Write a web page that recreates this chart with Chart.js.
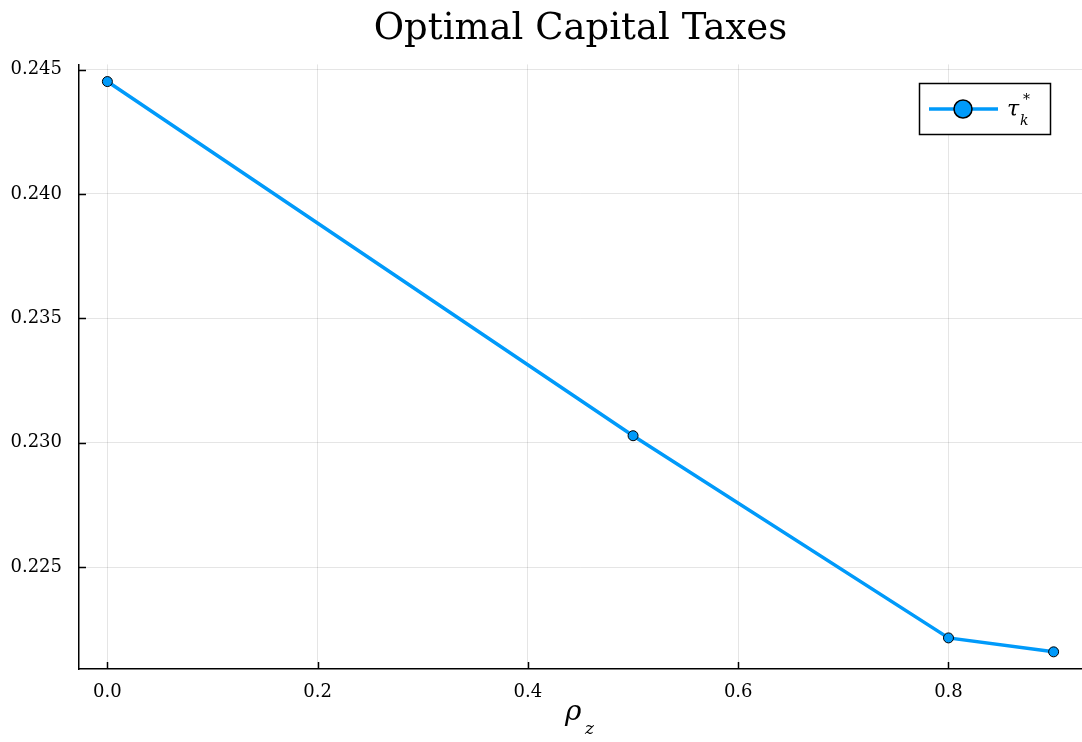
<!DOCTYPE html>
<html>
<head>
<meta charset="utf-8">
<script src="https://cdn.jsdelivr.net/npm/chart.js@4/dist/chart.umd.min.js"></script>
<style>
  body { margin: 0; background: #fff; overflow: hidden; }
  canvas { display: block; }
</style>
</head>
<body>
<!-- a few px wider than the window: Chart.js keeps room for the point radius on the right -->
<canvas id="chart" width="1088" height="742"></canvas>
<script>
// values
const rhoValues = [0.0, 0.5, 0.8, 0.9];
const tauValues = [0.24452, 0.23028, 0.22215, 0.22159];
const xTicks = [0.0, 0.2, 0.4, 0.6, 0.8];
const yTicks = [0.225, 0.230, 0.235, 0.240, 0.245];

const blue = '#009AFA';
const serif = "'DejaVu Serif', serif";

// inward tick marks, the x label and the legend box, Plots.jl style
const extras = {
  id: 'extras',
  afterDraw(chart) {
    const ctx = chart.ctx;
    const x = chart.scales.x;
    const y = chart.scales.y;
    const area = chart.chartArea;
    ctx.save();
    ctx.strokeStyle = '#000';
    ctx.lineWidth = 1.5;
    ctx.beginPath();
    yTicks.forEach((v) => {
      const py = Math.round(y.getPixelForValue(v)) + 0.5;
      ctx.moveTo(area.left, py);
      ctx.lineTo(area.left + 7, py);
    });
    xTicks.forEach((v) => {
      const px = Math.round(x.getPixelForValue(v)) + 0.5;
      ctx.moveTo(px, area.bottom);
      ctx.lineTo(px, area.bottom - 7);
    });
    ctx.stroke();

    // x axis label: rho sub z
    ctx.fillStyle = '#000';
    ctx.textBaseline = 'alphabetic';
    ctx.textAlign = 'left';
    ctx.font = 'italic 28px ' + serif;
    ctx.fillText('ρ', 565, 720);
    ctx.font = 'italic 17px ' + serif;
    ctx.fillText('z', 585, 734);

    // legend
    ctx.fillStyle = '#fff';
    ctx.fillRect(919, 83, 131, 51);
    ctx.strokeRect(919.5, 83.5, 131, 51);
    ctx.strokeStyle = blue;
    ctx.lineWidth = 3.5;
    ctx.beginPath();
    ctx.moveTo(929, 109);
    ctx.lineTo(998, 109);
    ctx.stroke();
    ctx.beginPath();
    ctx.arc(963, 109, 9, 0, Math.PI * 2);
    ctx.fillStyle = blue;
    ctx.fill();
    ctx.strokeStyle = '#000';
    ctx.lineWidth = 1.5;
    ctx.stroke();
    ctx.fillStyle = '#000';
    ctx.font = 'italic 22px ' + serif;
    ctx.fillText('τ', 1007, 116);
    ctx.font = 'italic 14px ' + serif;
    ctx.fillText('k', 1020, 125);
    ctx.fillText('*', 1023, 104);
    ctx.restore();
  }
};

const ctx = document.getElementById('chart').getContext('2d');
new Chart(ctx, {
  type: 'line',
  data: {
    datasets: [{
      label: 'τk*',
      data: rhoValues.map((r, i) => ({ x: r, y: tauValues[i] })),
      borderColor: blue,
      backgroundColor: blue,
      borderWidth: 3.5,
      pointRadius: 5,
      pointBackgroundColor: blue,
      pointBorderColor: '#000',
      pointBorderWidth: 1,
      fill: false,
      tension: 0,
    }]
  },
  options: {
    responsive: false,
    animation: false,
    layout: { padding: 0 },
    plugins: {
      legend: { display: false },
      tooltip: { enabled: false },
      title: {
        display: true,
        fullSize: false,
        text: 'Optimal Capital Taxes',
        color: '#000',
        font: { family: serif, size: 37, weight: 'normal' },
        padding: { top: 7, bottom: 13 },
      },
    },
    scales: {
      x: {
        type: 'linear',
        min: -0.027,
        max: 0.927,
        afterBuildTicks: (axis) => { axis.ticks = xTicks.map((v) => ({ value: v })); },
        afterFit: (axis) => { axis.height = 73; },
        grid: { color: 'rgba(0,0,0,0.1)', lineWidth: 1, drawTicks: false },
        border: { color: '#000', width: 1.5 },
        ticks: {
          color: '#000',
          padding: 13,
          maxRotation: 0,
          font: { family: serif, size: 18 },
          callback: (v) => Number(v).toFixed(1),
        },
      },
      y: {
        min: 0.22090,
        max: 0.24521,
        afterBuildTicks: (axis) => { axis.ticks = yTicks.map((v) => ({ value: v })); },
        afterFit: (axis) => { axis.width = 79; },
        grid: { color: 'rgba(0,0,0,0.1)', lineWidth: 1, drawTicks: false },
        border: { color: '#000', width: 1.5 },
        ticks: {
          color: '#000',
          padding: 17,
          font: { family: serif, size: 18 },
          callback: (v) => Number(v).toFixed(3),
        },
      },
    },
  },
  plugins: [extras],
});
</script>
</body>
</html>
